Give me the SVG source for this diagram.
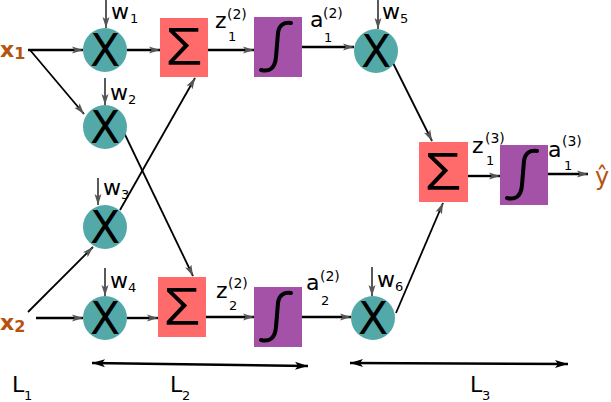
<svg xmlns="http://www.w3.org/2000/svg" width="611" height="402" viewBox="0 0 611 402">
<style>
.mul{fill:#52a9a8}
.sum{fill:#ff6b6b}
.sig{fill:#a352a8}
.sym{font-family:"DejaVu Sans",sans-serif;fill:#000;text-anchor:middle}
.sg{font-family:"Open Sans","Liberation Sans",sans-serif;font-weight:400;fill:#000;text-anchor:middle}
.lbl{font-family:"DejaVu Sans",sans-serif;fill:#000;font-size:22px}
.sup{font-family:"DejaVu Sans",sans-serif;fill:#000;font-size:14px}
.sub{font-family:"DejaVu Sans",sans-serif;fill:#000;font-size:13px}
.in{font-family:"DejaVu Sans",sans-serif;fill:#b5530f;font-weight:bold}
.c{stroke:#000;stroke-width:2.4;fill:none}
.d{stroke:#000;stroke-width:1.8;fill:none}
.w{stroke:#222;stroke-width:1.5;fill:none}
.integral{stroke:#000;stroke-width:4;fill:none;stroke-linecap:round}
</style>
<defs>
<marker id="ah" markerUnits="userSpaceOnUse" markerWidth="12" markerHeight="8" refX="11" refY="4" orient="auto">
<path d="M0,0.5 L11,4 L0,7.5 L2.5,4 z" fill="#555"/>
</marker>
<marker id="dh" markerUnits="userSpaceOnUse" markerWidth="14" markerHeight="10" refX="13" refY="5" orient="auto-start-reverse">
<path d="M0,1 L13,5 L0,9 L3,5 z" fill="#000"/>
</marker>
<path id="intg" class="integral" d="M7,53 C15,55 21,52 22,40 L24,16 C25,8 30,5 37,6"/>
</defs>

<g id="connectors">
<line class="c" x1="28" y1="50" x2="83" y2="50" marker-end="url(#ah)"/>
<line class="d" x1="30" y1="50" x2="84" y2="114" marker-end="url(#ah)"/>
<line class="c" x1="36" y1="318" x2="83" y2="318" marker-end="url(#ah)"/>
<line class="d" x1="28" y1="312" x2="93" y2="247" marker-end="url(#ah)"/>
<line class="c" x1="127" y1="50" x2="160" y2="50" marker-end="url(#ah)"/>
<line class="d" x1="117" y1="118" x2="193" y2="276" marker-end="url(#ah)"/>
<line class="d" x1="120" y1="210" x2="195" y2="78" marker-end="url(#ah)"/>
<line class="c" x1="127" y1="318" x2="158" y2="318" marker-end="url(#ah)"/>
<line class="c" x1="208" y1="50" x2="254" y2="50" marker-end="url(#ah)"/>
<line class="c" x1="206" y1="317" x2="254" y2="317" marker-end="url(#ah)"/>
<line class="c" x1="302" y1="47" x2="354" y2="47" marker-end="url(#ah)"/>
<line class="c" x1="302" y1="317" x2="351" y2="317" marker-end="url(#ah)"/>
<line class="d" x1="393" y1="63" x2="432" y2="141" marker-end="url(#ah)"/>
<line class="d" x1="396" y1="313" x2="443" y2="203" marker-end="url(#ah)"/>
<line class="c" x1="468" y1="176" x2="500" y2="176" marker-end="url(#ah)"/>
<line class="c" x1="548" y1="174" x2="588" y2="174" marker-end="url(#ah)"/>
<line class="w" x1="106" y1="0" x2="106" y2="28" marker-end="url(#ah)"/>
<line class="w" x1="105" y1="78" x2="105" y2="105" marker-end="url(#ah)"/>
<line class="w" x1="98" y1="178" x2="98" y2="205" marker-end="url(#ah)"/>
<line class="w" x1="105" y1="268" x2="105" y2="296" marker-end="url(#ah)"/>
<line class="w" x1="378" y1="0" x2="378" y2="29" marker-end="url(#ah)"/>
<line class="w" x1="372" y1="267" x2="372" y2="296" marker-end="url(#ah)"/>
<line class="c" x1="92" y1="363" x2="308" y2="366" marker-start="url(#dh)" marker-end="url(#dh)"/>
<line class="c" x1="350" y1="363" x2="568" y2="364" marker-start="url(#dh)" marker-end="url(#dh)"/>
</g>

<g id="x1"><text class="in" x="0" y="57" font-size="22">x<tspan font-size="16" dy="2">1</tspan></text></g>
<g id="x2"><text class="in" x="0" y="330" font-size="22">x<tspan font-size="16" dy="2">2</tspan></text></g>

<g id="mul1"><circle class="mul" cx="105" cy="50" r="22"/><text class="sym" x="105" y="66" font-size="44">X</text></g>
<g id="mul2"><circle class="mul" cx="105" cy="127" r="22"/><text class="sym" x="105" y="143" font-size="44">X</text></g>
<g id="mul3"><circle class="mul" cx="105" cy="227" r="22"/><text class="sym" x="105" y="243" font-size="44">X</text></g>
<g id="mul4"><circle class="mul" cx="105" cy="318" r="22"/><text class="sym" x="105" y="334" font-size="44">X</text></g>
<g id="mul5"><circle class="mul" cx="376" cy="51" r="22"/><text class="sym" x="376" y="67" font-size="44">X</text></g>
<g id="mul6"><circle class="mul" cx="373" cy="318" r="22"/><text class="sym" x="373" y="334" font-size="44">X</text></g>

<g id="sum1"><rect class="sum" x="160" y="18" width="48" height="59"/><text class="sg" x="184" y="65" font-size="52" textLength="35" lengthAdjust="spacingAndGlyphs">Σ</text></g>
<g id="sum2"><rect class="sum" x="158" y="277" width="48" height="60"/><text class="sg" x="182" y="325" font-size="52" textLength="35" lengthAdjust="spacingAndGlyphs">Σ</text></g>
<g id="sum3"><rect class="sum" x="419" y="142" width="49" height="60"/><text class="sg" x="443" y="190" font-size="52" textLength="35" lengthAdjust="spacingAndGlyphs">Σ</text></g>

<g id="sig1"><rect class="sig" x="254" y="17" width="48" height="60"/><use href="#intg" x="254" y="17"/></g>
<g id="sig2"><rect class="sig" x="254" y="287" width="48" height="60"/><use href="#intg" x="254" y="287"/></g>
<g id="sig3"><rect class="sig" x="500" y="145" width="48" height="60"/><use href="#intg" x="500" y="145"/></g>

<g id="labels">
<text class="lbl" x="111" y="19">w</text><text class="sub" x="130" y="23" font-size="12">1</text>
<text class="lbl" x="110" y="100">w</text><text class="sub" x="128" y="104" font-size="12">2</text>
<text class="lbl" x="103" y="195">w</text><text class="sub" x="121" y="199" font-size="12">3</text>
<text class="lbl" x="110" y="288">w</text><text class="sub" x="128" y="292" font-size="12">4</text>
<text class="lbl" x="382" y="19">w</text><text class="sub" x="400" y="23" font-size="12">5</text>
<text class="lbl" x="377" y="287">w</text><text class="sub" x="395" y="291" font-size="12">6</text>

<text class="lbl" x="215" y="28">z</text><text class="sup" x="227" y="19">(2)</text><text class="sub" x="228" y="41">1</text>
<text class="lbl" x="310" y="27">a</text><text class="sup" x="323" y="18">(2)</text><text class="sub" x="324" y="42">1</text>
<text class="lbl" x="216" y="298">z</text><text class="sup" x="228" y="288">(2)</text><text class="sub" x="229" y="310">2</text>
<text class="lbl" x="306" y="290">a</text><text class="sup" x="320" y="281">(2)</text><text class="sub" x="321" y="305">2</text>
<text class="lbl" x="472" y="153">z</text><text class="sup" x="485" y="143">(3)</text><text class="sub" x="486" y="165">1</text>
<text class="lbl" x="548" y="157">a</text><text class="sup" x="562" y="146">(3)</text><text class="sub" x="564" y="170">1</text>

<text x="595" y="185" font-family="DejaVu Sans, sans-serif" font-size="24" fill="#b5530f">ŷ</text>

<text class="lbl" x="12" y="392" font-size="23">L</text><text class="sub" x="24" y="400" font-size="15">1</text>
<text class="lbl" x="170" y="392" font-size="23">L</text><text class="sub" x="182" y="400" font-size="15">2</text>
<text class="lbl" x="470" y="392" font-size="23">L</text><text class="sub" x="482" y="400" font-size="15">3</text>
</g>
</svg>
